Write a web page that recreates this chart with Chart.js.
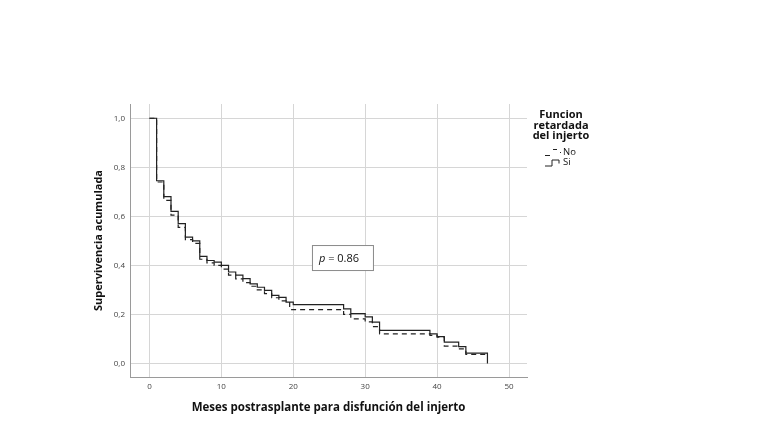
<!DOCTYPE html>
<html>
<head>
<meta charset="utf-8">
<script src="https://cdn.jsdelivr.net/npm/chart.js@4.4.1/dist/chart.umd.min.js"></script>
<style>
  html, body { margin: 0; padding: 0; background: #fff; }
  #wrap { width: 761px; height: 446px; }
</style>
</head>
<body>
<div id="wrap"><canvas id="km" width="761" height="446"></canvas></div>
<script>
// Kaplan-Meier: supervivencia acumulada por funcion retardada del injerto

// === DATA ===
const siMonths = [0, 1, 2, 3, 4, 5, 6, 7, 8, 9, 10, 11, 12, 13, 14, 15, 16, 17, 18, 19, 20, 27, 28, 30, 31, 32, 39, 40, 41, 43, 44, 47];
const siSurv   = [1.0, 0.745, 0.68, 0.62, 0.57, 0.515, 0.50, 0.437, 0.42, 0.413, 0.40, 0.373, 0.36, 0.346, 0.325, 0.311, 0.298, 0.278, 0.27, 0.25, 0.24, 0.223, 0.203, 0.19, 0.169, 0.135, 0.121, 0.11, 0.087, 0.069, 0.042, 0.0];

const noMonths = [0, 1, 2, 3, 4, 5, 6, 7, 8, 9, 10, 11, 12, 13, 14, 15, 16, 17, 18, 19.5, 27, 28, 30, 31, 32, 39, 40, 41, 43, 44, 47];
const noSurv   = [1.0, 0.74, 0.665, 0.605, 0.555, 0.505, 0.49, 0.425, 0.41, 0.40, 0.385, 0.36, 0.345, 0.33, 0.315, 0.30, 0.285, 0.268, 0.255, 0.22, 0.20, 0.182, 0.17, 0.15, 0.121, 0.115, 0.107, 0.071, 0.06, 0.037, 0.037];

const xTicks = [0, 10, 20, 30, 40, 50];
const yTicks = [0, 0.2, 0.4, 0.6, 0.8, 1.0];

const legendTitle = ['Funcion', 'retardada', 'del injerto'];
const legendLabels = ['No', 'Si'];
const pText = '0.86';

const FONT = '"Open Sans", "Noto Sans", sans-serif';

function toPoints(xs, ys) {
    return xs.map((x, i) => ({ x: x, y: ys[i] }));
}

// === LEGEND + P-VALUE BOX ===
const extrasPlugin = {
    id: 'kmExtras',
    afterDraw(chart) {
        const ctx = chart.ctx;
        const xs = chart.scales.x;
        const ys = chart.scales.y;
        ctx.save();

        // p value box, anchored in data space
        const bx = xs.getPixelForValue(22.6);
        const by = ys.getPixelForValue(0.483);
        const bw = 61, bh = 25;
        ctx.fillStyle = '#fff';
        ctx.fillRect(bx, by, bw, bh);
        ctx.strokeStyle = '#8a8a8a';
        ctx.lineWidth = 1;
        ctx.strokeRect(bx + 0.5, by + 0.5, bw, bh);
        ctx.fillStyle = '#111';
        ctx.textBaseline = 'middle';
        ctx.textAlign = 'left';
        ctx.font = 'italic 11px ' + FONT;
        ctx.fillText('p', bx + 7, by + bh / 2 + 1);
        const pw = ctx.measureText('p').width;
        ctx.font = '11px ' + FONT;
        ctx.fillText(' = ' + pText, bx + 7 + pw, by + bh / 2 + 1);

        // legend title
        const lx = chart.chartArea.right + 34;
        ctx.font = 'bold 11px ' + FONT;
        ctx.textAlign = 'center';
        ctx.fillStyle = '#111';
        legendTitle.forEach((t, i) => ctx.fillText(t, lx, 115 + i * 10.5));

        // legend items
        ctx.font = '9.5px ' + FONT;
        ctx.textAlign = 'left';
        legendLabels.forEach((lab, i) => {
            const y = 152 + i * 10.5;
            ctx.strokeStyle = '#222';
            ctx.lineWidth = 1;
            ctx.beginPath();
            if (i === 0) {
                ctx.moveTo(545, y + 3.5); ctx.lineTo(550, y + 3.5);
                ctx.moveTo(553, y - 2.5); ctx.lineTo(557, y - 2.5);
                ctx.moveTo(560, y + 0.5); ctx.lineTo(561, y + 0.5);
            } else {
                ctx.moveTo(545, y + 3.5); ctx.lineTo(552, y + 3.5);
                ctx.lineTo(552, y - 2.5); ctx.lineTo(559, y - 2.5);
                ctx.lineTo(559, y + 1);
            }
            ctx.stroke();
            ctx.fillStyle = '#111';
            ctx.fillText(lab, 563, y);
        });
        ctx.restore();
    }
};

const lineStyle = {
    borderColor: '#222',
    borderWidth: 1.2,
    pointRadius: 0,
    pointHoverRadius: 0,
    fill: false,
    stepped: 'before',
    tension: 0
};

new Chart(document.getElementById('km'), {
    type: 'line',
    data: {
        datasets: [
            { label: legendLabels[0], data: toPoints(noMonths, noSurv), borderDash: [5, 4], ...lineStyle },
            { label: legendLabels[1], data: toPoints(siMonths, siSurv), ...lineStyle }
        ]
    },
    options: {
        responsive: false,
        animation: false,
        devicePixelRatio: 1,
        layout: { padding: { left: 92, top: 104, right: 234, bottom: 31 } },
        plugins: { legend: { display: false }, tooltip: { enabled: false } },
        scales: {
            x: {
                type: 'linear',
                min: -2.7,
                max: 52.5,
                afterBuildTicks: s => { s.ticks = xTicks.map(v => ({ value: v })); },
                afterFit: s => { s.height = 38; },
                grid: { color: '#d6d6d6', lineWidth: 1, drawTicks: false },
                border: { color: '#9a9a9a', width: 1 },
                ticks: { padding: 5, color: '#444', font: { size: 8, family: FONT } },
                title: {
                    display: true,
                    text: 'Meses postrasplante para disfunción del injerto',
                    color: '#111',
                    font: { size: 11.5, weight: 'bold', family: FONT },
                    padding: { top: 0, bottom: 0 }
                }
            },
            y: {
                type: 'linear',
                min: -0.055,
                max: 1.058,
                afterBuildTicks: s => { s.ticks = yTicks.map(v => ({ value: v })); },
                afterFit: s => { s.width = 38; },
                grid: { color: '#d6d6d6', lineWidth: 1, drawTicks: false },
                border: { color: '#9a9a9a', width: 1 },
                ticks: {
                    padding: 5,
                    color: '#444',
                    font: { size: 8, family: FONT },
                    callback: v => v.toFixed(1).replace('.', ',')
                },
                title: {
                    display: true,
                    text: 'Supervivencia acumulada',
                    color: '#111',
                    font: { size: 11, weight: 'bold', family: FONT },
                    padding: { top: 0, bottom: 0 }
                }
            }
        }
    },
    plugins: [extrasPlugin]
});
</script>
</body>
</html>
